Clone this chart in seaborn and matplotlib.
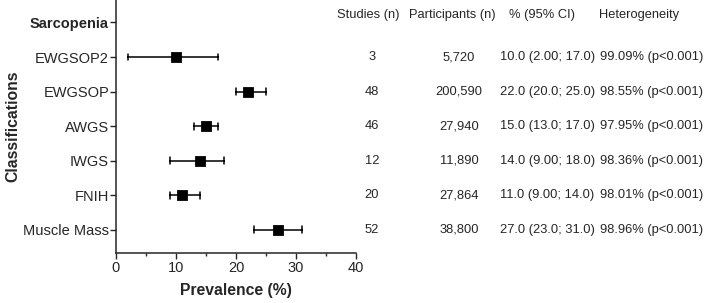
# -*- coding:utf-8 -*-

import pandas
import matplotlib.pyplot as plt
import matplotlib.transforms as mtransforms
from matplotlib.ticker import MultipleLocator
import seaborn as sns

# data
groups = ["Sarcopenia", "EWGSOP2", "EWGSOP", "AWGS", "IWGS", "FNIH", "Muscle Mass"]
est = [None, 10.0, 22.0, 15.0, 14.0, 11.0, 27.0]
low = [None, 2.0, 20.0, 13.0, 9.0, 9.0, 23.0]
high = [None, 17.0, 25.0, 17.0, 18.0, 14.0, 31.0]
studies = ["", "3", "48", "46", "12", "20", "52"]
participants = ["", "5,720", "200,590", "27,940", "11,890", "27,864", "38,800"]
ci_text = ["", "10.0 (2.00; 17.0)", "22.0 (20.0; 25.0)", "15.0 (13.0; 17.0)",
           "14.0 (9.00; 18.0)", "11.0 (9.00; 14.0)", "27.0 (23.0; 31.0)"]
het_text = ["", "99.09% (p<0.001)", "98.55% (p<0.001)", "97.95% (p<0.001)",
            "98.36% (p<0.001)", "98.01% (p<0.001)", "98.96% (p<0.001)"]
headers = ["Studies (n)", "Participants (n)", "% (95% CI)", "Heterogeneity"]


def show():
    # long table: low / estimate / high per group -> median with full range
    rows = []
    for g, e, lo, hi in zip(groups, est, low, high):
        if e is None:
            continue
        for v in (lo, e, hi):
            rows.append({"group": g, "value": v})
    df = pandas.DataFrame(rows)

    sns.set_style("ticks")
    plt.rcParams['font.family'] = ['Liberation Sans', 'DejaVu Sans']

    fig = plt.figure(figsize=(7.09, 3.03), dpi=100)
    ax = fig.add_axes([0.1636, 0.165, 0.3385, 0.835])

    sns.pointplot(data=df, x="value", y="group", order=groups,
                  estimator="median", errorbar=("pi", 100),
                  color="black", markers="s", linestyles="none",
                  markersize=6.2, capsize=0.2,
                  err_kws={"linewidth": 1.1}, ax=ax)

    ax.set_xlim(0, 40)
    ax.set_ylim(6.67, -0.65)
    ax.xaxis.set_major_locator(MultipleLocator(10))
    ax.xaxis.set_minor_locator(MultipleLocator(5))
    ax.tick_params(axis="x", which="major", length=4, width=1, labelsize=10.5, pad=1.5)
    ax.tick_params(axis="x", which="minor", length=2.5, width=1)
    ax.tick_params(axis="y", length=4, width=1, labelsize=10.5, pad=1)
    for s in ("left", "bottom"):
        ax.spines[s].set_linewidth(1.1)
    sns.despine(ax=ax)

    for lab in ax.get_yticklabels():
        if lab.get_text() == "Sarcopenia":
            lab.set_fontweight("bold")

    ax.set_xlabel("Prevalence (%)", fontsize=11.3, fontweight="bold", labelpad=6)
    ax.set_ylabel("Classifications", fontsize=11.3, fontweight="bold", labelpad=2)

    # table columns to the right
    fs = 9.3
    trans = mtransforms.blended_transform_factory(fig.transFigure, ax.transData)
    for i in range(len(groups)):
        ax.text(372 / 709, i, studies[i], transform=trans, ha="center", va="center", fontsize=fs)
        ax.text(459 / 709, i, participants[i], transform=trans, ha="center", va="center", fontsize=fs)
        ax.text(500 / 709, i, ci_text[i], transform=trans, ha="left", va="center", fontsize=fs)
        ax.text(600 / 709, i, het_text[i], transform=trans, ha="left", va="center", fontsize=fs)

    hx = [337, 409, 509, 599]
    for h, x in zip(headers, hx):
        fig.text(x / 709, 1 - 15 / 303, h, ha="left", va="center", fontsize=fs)

    plt.savefig("out.png")


if __name__ == '__main__':
    show()
